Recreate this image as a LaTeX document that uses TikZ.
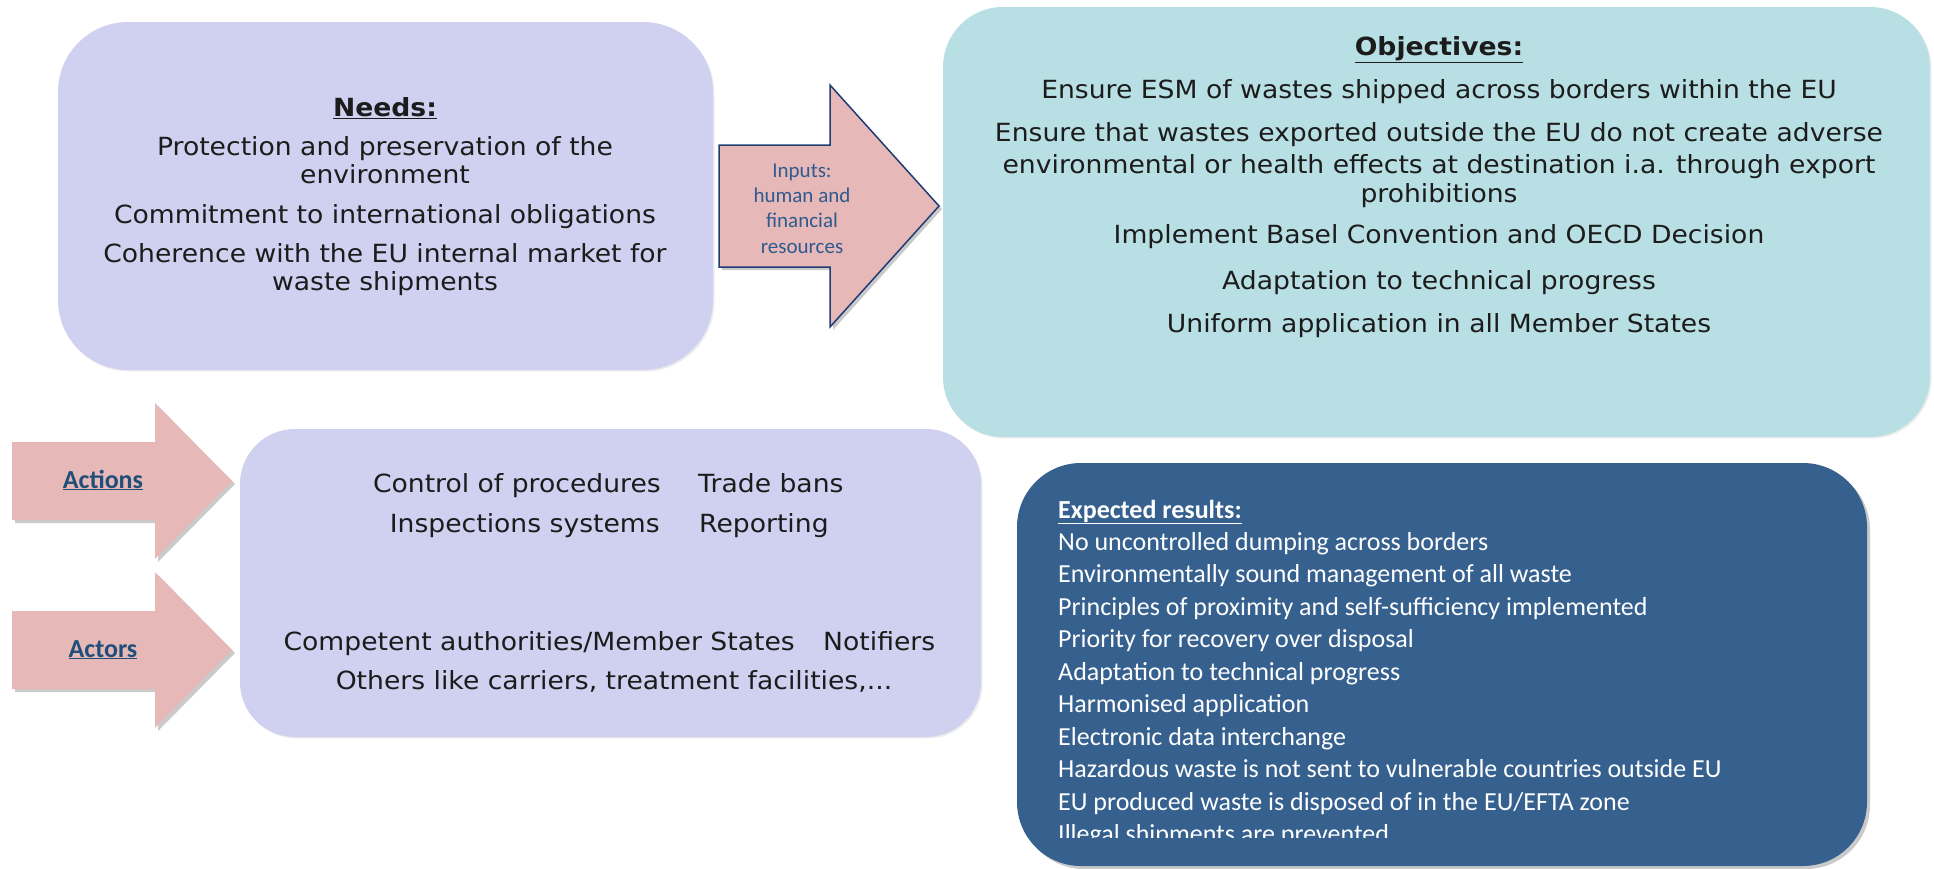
\documentclass[tikz,border=0pt]{standalone}
\usepackage{fontspec}
\usetikzlibrary{shadows}
\newfontfamily\verd[FakeStretch=1.065]{DejaVu Sans}
\newfontfamily\carl{Carlito}
\definecolor{needsC}{HTML}{D0D0F0}
\definecolor{objC}{HTML}{B8DFE3}
\definecolor{resC}{HTML}{36618F}
\definecolor{pinkC}{HTML}{E6B9B8}
\definecolor{navyC}{HTML}{1F3D73}
\definecolor{lblC}{HTML}{1F4E79}
\definecolor{inpC}{HTML}{2E5A8F}
\definecolor{txtC}{HTML}{1C1C1C}
\begin{document}
\begin{tikzpicture}[x=1pt,y=-1pt,
  vtext/.style={font=\verd\fontsize{25}{30}\selectfont, text=txtC, inner sep=0pt, anchor=base},
  vhead/.style={vtext, font=\verd\bfseries\fontsize{25}{30}\selectfont},
  itext/.style={font=\carl\fontsize{21}{25}\selectfont, text=inpC, inner sep=0pt, anchor=base},
  rtext/.style={font=\carl\fontsize{26}{32}\selectfont, text=white, inner sep=0pt, anchor=base west},
  rhead/.style={rtext, font=\carl\bfseries\fontsize{26}{32}\selectfont},
  ltext/.style={font=\carl\bfseries\fontsize{26}{32}\selectfont, text=lblC, inner sep=0pt, anchor=base},
  shd/.style={drop shadow={shadow xshift=3pt, shadow yshift=-3pt, opacity=0.35, fill=black!60}},
  faint/.style={drop shadow={shadow xshift=1.5pt, shadow yshift=-1.5pt, opacity=0.12, fill=black!60}}
]
\useasboundingbox (0,0) rectangle (1934,868);

% ---- Needs box
\fill[needsC, rounded corners=70pt, faint] (58,22) rectangle (713,370);
\node[vhead] (needsH) at (385,116) {\underline{Needs:}};
\node[vtext] (n1) at (385,155) {Protection and preservation of the};
\node[vtext] (n2) at (385,183) {environment};
\node[vtext] (n3) at (385,223) {Commitment to international obligations};
\node[vtext] (n4) at (385,262) {Coherence with the EU internal market for};
\node[vtext] (n5) at (385,290) {waste shipments};

% ---- Inputs arrow
\filldraw[fill=pinkC, draw=navyC, line width=1.5pt, shd]
  (719,145) -- (830,145) -- (830,85) -- (939,206) -- (830,327) -- (830,267) -- (719,267) -- cycle;
\node[itext] (i1) at (802,177) {Inputs:};
\node[itext] (i2) at (802,202) {human and};
\node[itext] (i3) at (802,227) {financial};
\node[itext] (i4) at (802,253) {resources};

% ---- Objectives box
\fill[objC, rounded corners=60pt, faint] (943,7) rectangle (1930,437);
\node[vhead] (objH) at (1439,55) {\underline{Objectives:}};
\node[vtext] (o1) at (1439,98) {Ensure ESM of wastes shipped across borders within the EU};
\node[vtext] (o2) at (1439,141) {Ensure that wastes exported outside the EU do not create adverse};
\node[vtext] (o3) at (1439,173) {environmental or health effects at destination i.a. through export};
\node[vtext] (o4) at (1439,202) {prohibitions};
\node[vtext] (o5) at (1439,243) {Implement Basel Convention and OECD Decision};
\node[vtext] (o6) at (1439,289) {Adaptation to technical progress};
\node[vtext] (o7) at (1439,332) {Uniform application in all Member States};

% ---- Actions / Actors arrows
\fill[pinkC, shd] (12,442) -- (155,442) -- (155,403) -- (232,481) -- (155,559) -- (155,520) -- (12,520) -- cycle;
\node[ltext] (actL) at (103,488) {\underline{Actions}};
\fill[pinkC, shd] (12,611) -- (155,611) -- (155,572) -- (232,650) -- (155,728) -- (155,689) -- (12,689) -- cycle;
\node[ltext] (actorL) at (103,657) {\underline{Actors}};

% ---- Actions box
\fill[needsC, rounded corners=55pt, faint] (240,429) rectangle (981,737);
\node[vtext, anchor=base east] (a1) at (661,492) {Control of procedures};
\node[vtext, anchor=base west] (a2) at (698,492) {Trade bans};
\node[vtext, anchor=base east] (a3) at (660,532) {Inspections systems};
\node[vtext, anchor=base west] (a4) at (699,532) {Reporting};
\node[vtext, anchor=base east] (a5) at (795,650) {Competent authorities/Member States};
\node[vtext, anchor=base west] (a6) at (823,650) {Notifiers};
\node[vtext] (a7) at (614,689) {Others like carriers, treatment facilities,...};

% ---- Expected results box
\fill[resC, rounded corners=64pt, shd] (1017,463) rectangle (1867,866);
\node[rhead] (rH) at (1058,518) {\underline{Expected results:}};
\node[rtext] (r1) at (1058,550) {No uncontrolled dumping across borders};
\node[rtext] (r2) at (1058,582) {Environmentally sound management of all waste};
\node[rtext] (r3) at (1058,615) {Principles of proximity and self-sufficiency implemented};
\node[rtext] (r4) at (1058,647) {Priority for recovery over disposal};
\node[rtext] (r5) at (1058,680) {Adaptation to technical progress};
\node[rtext] (r6) at (1058,712) {Harmonised application};
\node[rtext] (r7) at (1058,745) {Electronic data interchange};
\node[rtext] (r8) at (1058,777) {Hazardous waste is not sent to vulnerable countries outside EU};
\node[rtext] (r9) at (1058,810) {EU produced waste is disposed of in the EU/EFTA zone};
\begin{scope}
  \clip (1020,815) rectangle (1860,837);
  \node[rtext] (r10) at (1058,842) {Illegal shipments are prevented};
\end{scope}
\end{tikzpicture}
\end{document}
